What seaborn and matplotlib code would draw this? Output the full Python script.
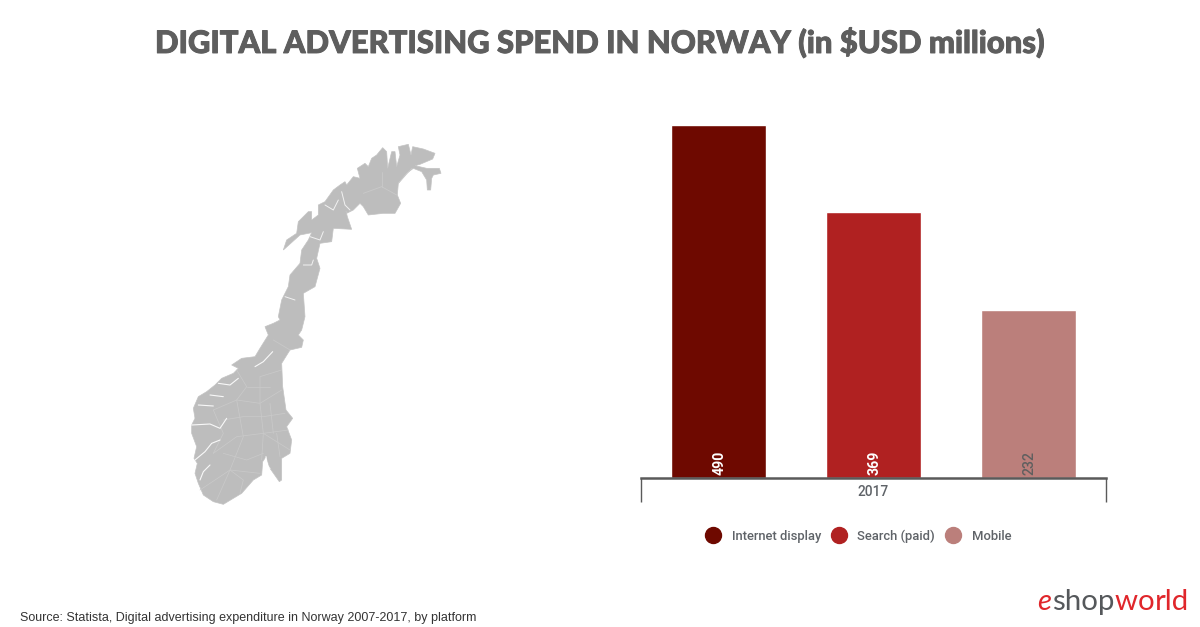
import numpy as np
import pandas as pd
import matplotlib
matplotlib.use("Agg")
import matplotlib.pyplot as plt
import matplotlib.patheffects as pe
from matplotlib.lines import Line2D
from matplotlib.patches import Polygon
import seaborn as sns

platforms = ["Internet display", "Search (paid)", "Mobile"]
spend = [490, 369, 232]
bar_colors = ["#6E0900", "#B02121", "#BB7F7B"]
label_colors = ["#FFFFFF", "#FFFFFF", "#5F5F5F"]
year_label = "2017"
title_text = "DIGITAL ADVERTISING SPEND IN NORWAY (in $USD millions)"
source_text = "Source: Statista, Digital advertising expenditure in Norway 2007-2017, by platform"

arctic = [(0,150),(15,140),(20,150),(40,125),(60,130),(52,100),(75,85),(85,95),(95,70),(110,60),(128,38),(140,50),(143,100),(155,50),(165,50),(170,95),(180,60),(175,35),(205,28),(213,60),(218,35),(250,42),(285,55),(278,72),(240,88),(225,92),(260,100),(298,100),(303,115),(280,120),(275,130),(272,165),(262,165),(260,135),(245,110),(220,100),(200,115),(175,145),(172,180),(182,205),(165,235),(130,235),(85,240),(70,215),(60,205),(40,225),(20,235),(18,228)]
mid_east = [(232,80),(245,118),(190,115),(185,155),(150,160),(140,205),(150,235),(135,290),(100,310),(105,380),(95,420)]
south = [(355,45),(370,60),(365,82),(330,90),(305,130),(308,200),(318,270),(338,295),(320,320),(335,360),(330,400),(305,415),(305,480),(298,485),(270,445),(258,410),(248,425),(245,465),(220,480),(185,520),(130,553),(100,545),(70,525),(55,490),(45,460),(52,430),(42,415),(50,380),(35,340),(35,315),(45,295),(40,265),(55,230),(80,215),(105,195),(125,175),(160,160),(175,145),(155,135),(185,115),(225,110),(240,85),(265,45),(255,20),(280,10),(300,0)]
mid_west = [(25,380),(35,330),(55,290),(60,255),(90,220),(95,180),(115,150),(125,128),(90,135),(40,180),(50,150),(80,130),(85,95),(115,65),(125,65),(125,90),(145,75),(145,45),(165,35),(190,0)]
fjords_mid = [[(165,45),(190,60),(205,30)],[(120,140),(150,150),(160,125)],[(100,225),(125,225),(130,210)],[(45,320),(75,330)],[(215,5),(225,45),(240,60)]]
fjords_south = [[(225,140),(250,125),(278,95)],[(35,315),(90,312),(120,325),(140,295)],[(45,420),(75,395),(95,370),(120,360)],[(60,480),(70,455),(90,435)],[(55,255),(100,258)],[(115,190),(150,195),(175,175)],[(90,225),(130,230)],[(258,410),(262,440),(270,445)]]
borders_arctic = [[(70,175),(125,155),(170,180)],[(125,110),(125,155)],[(175,145),(215,100)]]
borders_south = [[(100,270),(170,240),(240,250),(305,210)],[(100,400),(170,350),(250,340),(325,330)],[(170,240),(190,350),(150,450),(110,540)],[(240,170),(240,250),(250,340),(245,420)],[(60,510),(150,450),(240,460)],[(170,150),(200,200),(170,240)],[(250,340),(330,390)],[(240,170),(305,150)],[(330,90),(280,60)],[(130,300),(190,290),(250,290),(315,280)],[(130,400),(200,420),(250,400)],[(200,200),(270,200)],[(100,270),(130,340),(100,400)],[(150,450),(190,480),(180,520)],[(270,250),(280,340)],[(290,340),(300,410)]]

sns.set_theme(style="white")
plt.rcParams["font.family"] = ["Roboto", "DejaVu Sans"]

fig = plt.figure(figsize=(12, 6.27), dpi=100, facecolor="white")
W, H = 1200, 627

def axes_px(x0, y0, x1, y1):
    return fig.add_axes([x0 / W, 1 - y1 / H, (x1 - x0) / W, (y1 - y0) / H])

# Bar chart
df = pd.DataFrame({"platform": platforms, "spend": spend})
ax = axes_px(641, 124.5, 1106, 477.7)
sns.barplot(data=df, x="platform", y="spend", hue="platform", order=platforms,
            hue_order=platforms, palette=bar_colors, dodge=False, width=0.613,
            saturation=1, legend=False, ax=ax)
ax.set_xlim(-0.5, 2.5)
ax.set_ylim(0, max(spend))
ax.set_xlabel("")
ax.set_ylabel("")
ax.set_yticks([])
ax.patch.set_alpha(0)
for side in ("top", "left", "right"):
    ax.spines[side].set_visible(False)
ax.spines["bottom"].set_color("#5A5A5A")
ax.spines["bottom"].set_linewidth(1.8)
ax.set_xticks([-0.5, 2.5], ["", ""])
ax.tick_params(axis="x", which="major", length=17, width=1, color="#5A5A5A", bottom=True)
ax.set_xticks([1], [year_label], minor=True)
ax.tick_params(axis="x", which="minor", length=0, pad=5, labelsize=9.8, labelcolor="#5F6368", bottom=False)
for lab in ax.get_xticklabels(minor=True):
    lab.set_fontweight("medium")
for i, (v, c) in enumerate(zip(spend, label_colors)):
    ax.annotate(str(v), (i, 0), xytext=(1, 2), textcoords="offset points", rotation=90,
                ha="center", va="bottom", color=c, fontsize=10.2, fontweight="bold" if i < 2 else "medium")

handles = [Line2D([], [], linestyle="none", marker="o", markersize=11.5, color=c) for c in bar_colors]
fig.legend(handles, platforms, ncol=3, frameon=False, loc="center",
           bbox_to_anchor=(858 / W, 1 - 536 / H), labelcolor="#5F6368",
           handletextpad=0.85, columnspacing=0.75, handlelength=1.2,
           prop={"family": "Roboto", "weight": "medium", "size": 9.4})

# Map
m = fig.add_axes([0, 0, 1, 1], zorder=0)
m.set_xlim(0, W)
m.set_ylim(H, 0)
m.axis("off")
m.patch.set_alpha(0)

def a_px(pts):
    return [(340 + x / 3, 135 + y / 3) for x, y in pts]

def c_px(pts):
    return [(270 + x / 3, 190 + y / 3) for x, y in pts]

def s_px(pts):
    return [(180 + x / 3, 320 + y / 3) for x, y in pts]

outline = a_px(arctic) + c_px(mid_east) + s_px(south) + c_px(mid_west)
m.add_patch(Polygon(outline, closed=True, facecolor="#BDBDBD", edgecolor="#C4C4C4", linewidth=0.5))
for line in borders_arctic:
    m.plot(*zip(*a_px(line)), color="#C9C9C9", lw=0.6)
for line in borders_south:
    m.plot(*zip(*s_px(line)), color="#C9C9C9", lw=0.55)
for line in fjords_mid:
    m.plot(*zip(*c_px(line)), color="white", lw=0.7, alpha=0.8)
for line in fjords_south:
    m.plot(*zip(*s_px(line)), color="white", lw=0.8, alpha=0.9)

# Texts
fig.text(600 / W, 1 - 43 / H, title_text, ha="center", va="center", color="#5E5E5E",
         fontsize=22.3, fontweight="black", family="Lato",
         path_effects=[pe.withStroke(linewidth=0.7, foreground="#5E5E5E")])
fig.text(20 / W, 1 - 617.5 / H, source_text, ha="left", va="center", color="#333333",
         fontsize=9.0, family="Liberation Sans")

# Logo as chained text pieces
renderer = fig.canvas.get_renderer()
x = 1037.5
for piece, col, style in [("e", "#E0262B", "italic"), ("shop", "#55585B", "normal"),
                          ("w", "#E0262B", "normal"), ("o", "#E0262B", "normal"), ("rld", "#E0262B", "normal")]:
    t = fig.text(x / W, 1 - 610 / H, piece, ha="left", va="baseline", color=col,
                 fontsize=21.2, fontstyle=style, family="Lato", fontweight="normal")
    x = t.get_window_extent(renderer).x1 + 0.2

fig.savefig("out.png", dpi=100, facecolor="white")
